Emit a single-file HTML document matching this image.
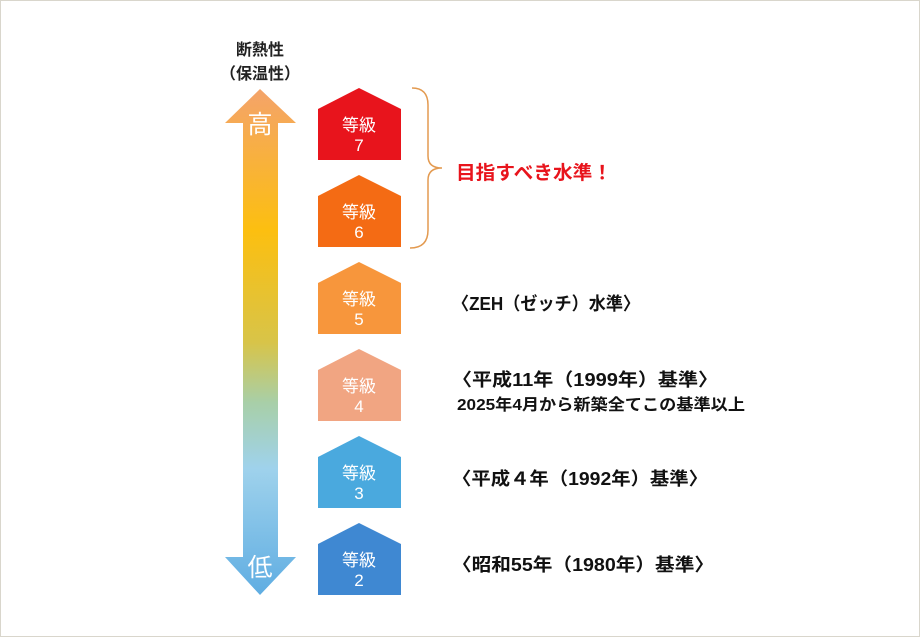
<!DOCTYPE html>
<html><head><meta charset="utf-8"><style>
html,body{margin:0;padding:0;background:#fff}
body{width:920px;height:637px;overflow:hidden}
svg text{font-family:"Liberation Sans","Noto Sans CJK JP",sans-serif}
</style></head><body>
<svg width="920" height="637" viewBox="0 0 920 637" xmlns="http://www.w3.org/2000/svg">
<defs>
<linearGradient id="g" x1="0" y1="89" x2="0" y2="595" gradientUnits="userSpaceOnUse">
<stop offset="0" stop-color="#f4a36a"/>
<stop offset="0.28" stop-color="#fcbf10"/>
<stop offset="0.5" stop-color="#d8c448"/>
<stop offset="0.62" stop-color="#a8cfa8"/>
<stop offset="0.75" stop-color="#9fd2ec"/>
<stop offset="1" stop-color="#5fade2"/>
</linearGradient>
</defs>
<rect x="0.5" y="0.5" width="919" height="636" fill="#fff" stroke="#d9d6cc" stroke-width="1"/>
<text x="260" y="55" font-size="16" font-weight="bold" text-anchor="middle" fill="#222">断熱性</text>
<text x="260" y="79" font-size="16" font-weight="bold" text-anchor="middle" fill="#222">（保温性）</text>
<path d="M260,89 L296,123 L278,123 L278,557 L296,557 L260,595 L225,557 L243,557 L243,123 L225,123 Z" fill="url(#g)"/>
<text x="260" y="133" font-size="25" text-anchor="middle" fill="#fff">高</text>
<text x="260" y="576" font-size="25" text-anchor="middle" fill="#fff">低</text>
<g font-size="17" text-anchor="middle" fill="#fff">
<path d="M359,88 L401,109 L401,160 L318,160 L318,109 Z" fill="#e8141c"/>
<text x="359" y="131">等級</text><text x="359" y="151">7</text>
<path d="M359,175 L401,196 L401,247 L318,247 L318,196 Z" fill="#f46b14"/>
<text x="359" y="218">等級</text><text x="359" y="238">6</text>
<path d="M359,262 L401,283 L401,334 L318,334 L318,283 Z" fill="#f7963c"/>
<text x="359" y="305">等級</text><text x="359" y="325">5</text>
<path d="M359,349 L401,370 L401,421 L318,421 L318,370 Z" fill="#f1a582"/>
<text x="359" y="392">等級</text><text x="359" y="412">4</text>
<path d="M359,436 L401,457 L401,508 L318,508 L318,457 Z" fill="#4aa9de"/>
<text x="359" y="479">等級</text><text x="359" y="499">3</text>
<path d="M359,523 L401,544 L401,595 L318,595 L318,544 Z" fill="#3f88d2"/>
<text x="359" y="566">等級</text><text x="359" y="586">2</text>
</g>
<path d="M412,88 Q428,88 428,105 L428,156 Q428,168 442,168 Q428,168 428,180 L428,230 Q428,248 410,248" fill="none" stroke="#e39a50" stroke-width="1.5"/>
<g font-weight="bold" fill="#111" font-size="18">
<text x="456" y="179" fill="#e8141c" font-size="19" textLength="156" lengthAdjust="spacingAndGlyphs">目指すべき水準！</text>
<text x="452" y="310" textLength="188" lengthAdjust="spacingAndGlyphs">〈ZEH（ゼッチ）水準〉</text>
<text x="452" y="386" textLength="266" lengthAdjust="spacingAndGlyphs">〈平成11年（1999年）基準〉</text>
<text x="457" y="410" font-size="16" textLength="288" lengthAdjust="spacingAndGlyphs">2025年4月から新築全てこの基準以上</text>
<text x="452" y="485" textLength="256" lengthAdjust="spacingAndGlyphs">〈平成４年（1992年）基準〉</text>
<text x="452" y="571" textLength="262" lengthAdjust="spacingAndGlyphs">〈昭和55年（1980年）基準〉</text>
</g>
</svg>
</body></html>
